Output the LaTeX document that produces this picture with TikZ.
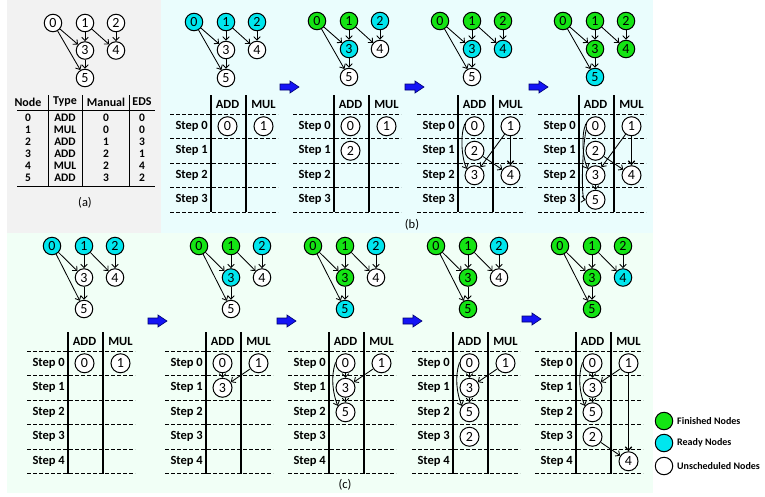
\documentclass[tikz,border=0pt]{standalone}
\usepackage{fontspec}
\setmainfont{Carlito}
\usetikzlibrary{arrows.meta}
\definecolor{fing}{RGB}{20,228,20}
\definecolor{rdyc}{RGB}{0,230,238}
\definecolor{bga}{RGB}{242,242,242}
\definecolor{bgb}{RGB}{234,253,253}
\definecolor{bgc}{RGB}{241,255,246}
\definecolor{arrb}{RGB}{20,20,245}
\tikzset{
 dn/.style={circle, draw=black, line width=1pt, minimum size=17.5pt, inner sep=0pt, font=\fontsize{14}{14}\selectfont},
 fin/.style={fill=fing}, rdy/.style={fill=rdyc}, uns/.style={fill=white},
 tn/.style={dn, minimum size=19pt},
 ar/.style={-{Straight Barb[length=3.5pt,width=6.5pt]}, line width=0.85pt},
 dsh/.style={line width=1pt, dash pattern=on 4pt off 2pt},
 vl/.style={line width=1.3pt},
 hd/.style={font=\bfseries\fontsize{12.5}{12.5}\selectfont, inner sep=0pt},
 lbl/.style={font=\bfseries\fontsize{12.5}{12.5}\selectfont, anchor=east, inner sep=0pt},
 barr/.style={fill=arrb, draw=blue!45!black, line width=0.6pt, line join=miter},
 capt/.style={font=\fontsize{12.5}{12.5}\selectfont, inner sep=0pt},
 tbh/.style={font=\bfseries\fontsize{12}{12}\selectfont, inner sep=0pt},
 tb/.style={font=\bfseries\fontsize{11.5}{11.5}\selectfont, inner sep=0pt},
 leg/.style={font=\bfseries\fontsize{10}{10}\selectfont, anchor=west, inner sep=0pt},
}
\newcommand\mydag[9]{%
\begin{scope}[shift={#2}]
\node[dn,#4] (#1n0) at (0,0) {0};
\node[dn,#5] (#1n1) at (32,0) {1};
\node[dn,#6] (#1n2) at (63,0) {2};
\node[dn,#7] (#1n3) at (32,#3) {3};
\node[dn,#8] (#1n4) at (63,#3) {4};
\node[dn,#9] (#1n5) at (32,2*#3) {5};
\end{scope}
\draw[ar] (#1n0) -- (#1n3);
\draw[ar] (#1n0) -- (#1n5);
\draw[ar] (#1n1) -- (#1n3);
\draw[ar] (#1n1) -- (#1n4);
\draw[ar] (#1n2) -- (#1n4);
\draw[ar] (#1n3) -- (#1n5);
}
\newcommand\mytable[4]{%
\begin{scope}[shift={(#2,#3)}]
\foreach \i in {0,...,#4} {
  \draw[dsh] (-41,\i*24.5) -- (67,\i*24.5);
  \node[lbl] (#1s\i) at (-3,\i*24.5+12.25) {Step \i};
}
\draw[dsh] (-41,{(#4+1)*24.5}) -- (67,{(#4+1)*24.5});
\draw[vl] (0,-19) -- (0,{(#4+1)*24.5});
\draw[vl] (35,-19) -- (35,{(#4+1)*24.5});
\node[hd] (#1hA) at (16.5,-10) {ADD};
\node[hd] (#1hM) at (52.5,-10) {MUL};
\end{scope}}
\newcommand\cel[6]{\node[tn,fill=white] (#1) at ({#2+16.5+36*#4},{#3+12.25+24.5*#5}) {#6};}
% blue block arrow, left end at (#1,#2)
\newcommand\blockarrow[2]{%
\begin{scope}[shift={(#1,#2)}]
\filldraw[barr] (0,-3) -- (10,-3) -- (10,-6) -- (19,0) -- (10,6) -- (10,3) -- (0,3) -- cycle;
\end{scope}}
\begin{document}
\begin{tikzpicture}[x=1pt,y=-1pt]
\useasboundingbox (0,0) rectangle (765,496);
\fill[bga] (7,0) rectangle (161,233);
\fill[bgb] (161,0) rectangle (653,233);
\fill[bgc] (7,233) rectangle (653,493);
% ---------- (a)
\mydag{a}{(53,23)}{27.5}{uns}{uns}{uns}{uns}{uns}{uns}
\node[tbh] (ah1) at (28,102) {Node};
\node[tbh] (ah2) at (65,102) {Type};
\node[tbh] (ah3) at (106,102) {Manual};
\node[tbh] (ah4) at (142,102) {EDS};
\foreach \n/\t/\m/\e [count=\k from 0] in {0/ADD/0/0,1/MUL/0/0,2/ADD/1/3,3/ADD/2/1,4/MUL/2/4,5/ADD/3/2} {
  \node[tb] (an\k) at (28,{118+12*\k}) {\n};
  \node[tb] (at\k) at (65,{118+12*\k}) {\t};
  \node[tb] (am\k) at (106,{118+12*\k}) {\m};
  \node[tb] (ae\k) at (142,{118+12*\k}) {\e};
}
\draw[line width=1pt] (17,110) -- (155,110);
\draw[line width=1pt] (17,186) -- (155,186);
\foreach \x in {48,82,129} \draw[line width=1pt] (\x,95) -- (\x,186);
\node[capt] (la) at (85,203) {(a)};
% ---------- (b)
\mydag{b1}{(194,22)}{28}{rdy}{rdy}{rdy}{uns}{uns}{uns}
\mytable{b1}{211}{114}{3}
\cel{b1t0}{211}{114}{0}{0}{0}
\cel{b1t1}{211}{114}{1}{0}{1}
\blockarrow{280}{87}
\mydag{b2}{(317,21)}{28}{fin}{fin}{rdy}{rdy}{uns}{uns}
\mytable{b2}{334}{114}{3}
\cel{b2t0}{334}{114}{0}{0}{0}
\cel{b2t1}{334}{114}{1}{0}{1}
\cel{b2t2}{334}{114}{0}{1}{2}
\blockarrow{405}{87}
\mydag{b3}{(440,21)}{28}{fin}{fin}{fin}{rdy}{rdy}{uns}
\mytable{b3}{458}{114}{3}
\cel{b3t0}{458}{114}{0}{0}{0}
\cel{b3t1}{458}{114}{1}{0}{1}
\cel{b3t2}{458}{114}{0}{1}{2}
\cel{b3t3}{458}{114}{0}{2}{3}
\cel{b3t4}{458}{114}{1}{2}{4}
\draw[ar] (b3t0.165) .. controls +(-5,12) and +(-5,-10) .. (b3t3.140);
\draw[ar] (b3t1) -- (b3t3);
\draw[ar, line width=1.3pt] (b3t1) -- (b3t4);
\draw[ar] (b3t2) -- (b3t4);
\blockarrow{529}{87}
\mydag{b4}{(563,21)}{28}{fin}{fin}{fin}{fin}{fin}{rdy}
\mytable{b4}{579}{114}{3}
\cel{b4t0}{579}{114}{0}{0}{0}
\cel{b4t1}{579}{114}{1}{0}{1}
\cel{b4t2}{579}{114}{0}{1}{2}
\cel{b4t3}{579}{114}{0}{2}{3}
\cel{b4t4}{579}{114}{1}{2}{4}
\cel{b4t5}{579}{114}{0}{3}{5}
\draw[ar] (b4t0.165) .. controls +(-5,12) and +(-5,-10) .. (b4t3.140);
\draw[ar] (b4t0.200) .. controls (582,150) and (581,199) .. (b4t5.west);
\draw[ar] (b4t3) -- (b4t5);
\draw[ar] (b4t1) -- (b4t3);
\draw[ar, line width=1.3pt] (b4t1) -- (b4t4);
\draw[ar] (b4t2) -- (b4t4);
\node[capt] (lb) at (412,225) {(b)};
% ---------- (c)
\mydag{c1}{(52,246)}{31.5}{rdy}{rdy}{rdy}{uns}{uns}{uns}
\mytable{c1}{68}{351}{4}
\cel{c1t0}{68}{351}{0}{0}{0}
\cel{c1t1}{68}{351}{1}{0}{1}
\blockarrow{148}{321}
\mydag{c2}{(199,246)}{31.5}{fin}{fin}{rdy}{rdy}{uns}{uns}
\mytable{c2}{206}{351}{4}
\cel{c2t0}{206}{351}{0}{0}{0}
\cel{c2t1}{206}{351}{1}{0}{1}
\cel{c2t3}{206}{351}{0}{1}{3}
\draw[ar] (c2t0) -- (c2t3);
\draw[ar] (c2t1) -- (c2t3);
\blockarrow{277}{321}
\mydag{c3}{(313,246)}{31.5}{fin}{fin}{rdy}{fin}{uns}{rdy}
\mytable{c3}{329}{351}{4}
\cel{c3t0}{329}{351}{0}{0}{0}
\cel{c3t1}{329}{351}{1}{0}{1}
\cel{c3t3}{329}{351}{0}{1}{3}
\cel{c3t5}{329}{351}{0}{2}{5}
\draw[ar] (c3t0) -- (c3t3);
\draw[ar] (c3t1) -- (c3t3);
\draw[ar] (c3t3) -- (c3t5);
\draw[ar] (c3t0.175) .. controls +(-5,14) and +(-5,-12) .. (c3t5.140);
\blockarrow{403}{321}
\mydag{c4}{(436,246)}{31.5}{fin}{fin}{rdy}{fin}{uns}{fin}
\mytable{c4}{453}{351}{4}
\cel{c4t0}{453}{351}{0}{0}{0}
\cel{c4t1}{453}{351}{1}{0}{1}
\cel{c4t3}{453}{351}{0}{1}{3}
\cel{c4t5}{453}{351}{0}{2}{5}
\cel{c4t2}{453}{351}{0}{3}{2}
\draw[ar] (c4t0) -- (c4t3);
\draw[ar] (c4t1) -- (c4t3);
\draw[ar] (c4t3) -- (c4t5);
\draw[ar] (c4t0.175) .. controls +(-5,14) and +(-5,-12) .. (c4t5.140);
\blockarrow{522}{319}
\mydag{c5}{(560,246)}{31.5}{fin}{fin}{fin}{fin}{rdy}{fin}
\mytable{c5}{576}{351}{4}
\cel{c5t0}{576}{351}{0}{0}{0}
\cel{c5t1}{576}{351}{1}{0}{1}
\cel{c5t3}{576}{351}{0}{1}{3}
\cel{c5t5}{576}{351}{0}{2}{5}
\cel{c5t2}{576}{351}{0}{3}{2}
\cel{c5t4}{576}{351}{1}{4}{4}
\draw[ar] (c5t0) -- (c5t3);
\draw[ar] (c5t1) -- (c5t3);
\draw[ar] (c5t3) -- (c5t5);
\draw[ar] (c5t0.175) .. controls +(-5,14) and +(-5,-12) .. (c5t5.140);
\draw[ar, line width=1.3pt] (c5t1) -- (c5t4);
\draw[ar] (c5t2) -- (c5t4);
\node[capt] (lc) at (345,485) {(c)};
% ---------- legend
\node[dn,fin] (lg1) at (664,421) {};
\node[dn,rdy] (lg2) at (664,443) {};
\node[dn,uns] (lg3) at (664,466) {};
\node[leg] (lt1) at (677,421) {Finished Nodes};
\node[leg] (lt2) at (677,443) {Ready Nodes};
\node[leg] (lt3) at (677,466) {Unscheduled Nodes};
\end{tikzpicture}
\end{document}
